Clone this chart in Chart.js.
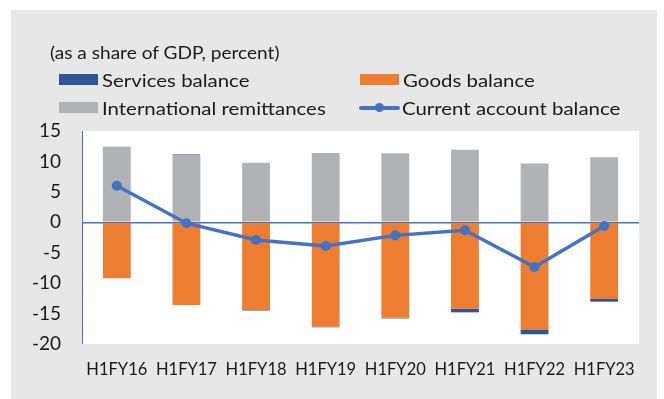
<!DOCTYPE html>
<html>
<head>
<meta charset="utf-8">
<script src="https://cdn.jsdelivr.net/npm/chart.js@4"></script>
<style>
  html, body { margin: 0; padding: 0; background: #ffffff; }
  #wrap { position: relative; width: 664px; height: 399px; overflow: hidden; }
  #panel { position: absolute; left: 11px; top: 10px; width: 646px; height: 389px; background: #e7e7e7; }
  #chart { position: absolute; left: 0; top: 0; }
  .txt { position: absolute; font-family: Lato, "Open Sans", sans-serif; font-size: 18px; color: #1a1a1a; white-space: nowrap; line-height: 1; transform-origin: 0 50%; }
  .sw { position: absolute; width: 39px; height: 11px; }
</style>
</head>
<body>
<div id="wrap">
  <div id="panel"></div>
  <canvas id="chart" width="664" height="399"></canvas>
  <div class="txt" style="left:50px; top:43px; transform: scaleX(1.06);">(as a share of GDP, percent)</div>
  <div id="legend"></div>
</div>
<script>
// Half-year balance of payments components, % of GDP
const categories = ['H1FY16', 'H1FY17', 'H1FY18', 'H1FY19', 'H1FY20', 'H1FY21', 'H1FY22', 'H1FY23'];
const servicesBalance = [0.1, 0.1, -0.1, -0.1, -0.1, -0.6, -0.8, -0.45];
const goodsBalance = [-9.2, -13.6, -14.4, -17.15, -15.7, -14.2, -17.6, -12.6];
const remittances = [12.3, 11.1, 9.8, 11.4, 11.35, 11.9, 9.65, 10.7];
const currentAccount = [6.0, -0.15, -2.9, -3.9, -2.15, -1.3, -7.35, -0.6];
const yTicks = [15, 10, 5, 0, -5, -10, -15, -20];

const COLORS = {
  services: '#2f5597',
  goods: '#ed7d31',
  remit: '#b0b2b5',
  ca: '#4472c4',
  axis: '#4472c4',
  text: '#1a1a1a'
};
const FONT = 'Lato, "Open Sans", sans-serif';

// Legend, laid out in two columns
const legendItems = [
  { label: 'Services balance', color: COLORS.services, x: 59, y: 74, kind: 'box' },
  { label: 'Goods balance', color: COLORS.goods, x: 360, y: 74, kind: 'box' },
  { label: 'International remittances', color: COLORS.remit, x: 59, y: 102, kind: 'box' },
  { label: 'Current account balance', color: COLORS.ca, x: 359, y: 102, kind: 'line' }
];
const legendEl = document.getElementById('legend');
legendItems.forEach(it => {
  if (it.kind === 'box') {
    const s = document.createElement('div');
    s.className = 'sw';
    s.style.left = it.x + 'px';
    s.style.top = it.y + 'px';
    s.style.background = it.color;
    legendEl.appendChild(s);
  } else {
    const l = document.createElement('div');
    l.style.cssText = `position:absolute;left:${it.x}px;top:${it.y + 4}px;width:41px;height:3.5px;background:${it.color};border-radius:2px;`;
    legendEl.appendChild(l);
    const d = document.createElement('div');
    d.style.cssText = `position:absolute;left:${it.x + 16}px;top:${it.y + 1}px;width:9px;height:9px;background:${it.color};border-radius:50%;`;
    legendEl.appendChild(d);
  }
  const t = document.createElement('div');
  t.className = 'txt';
  t.textContent = it.label;
  t.style.left = (it.x + 43) + 'px';
  t.style.top = (it.y - 3) + 'px';
  t.style.transform = 'scaleX(1.135)';
  legendEl.appendChild(t);
});

new Chart(document.getElementById('chart'), {
  data: {
    labels: categories,
    datasets: [
      {
        type: 'line', label: 'Current account balance', data: currentAccount, stack: 'ca',
        borderColor: COLORS.ca, backgroundColor: COLORS.ca, borderWidth: 3.5,
        pointRadius: 5, pointHoverRadius: 5, pointBackgroundColor: COLORS.ca, pointBorderWidth: 0,
        tension: 0, order: 0
      },
      {
        type: 'bar', label: 'Goods balance', data: goodsBalance, stack: 'bop',
        backgroundColor: COLORS.goods, borderWidth: 0, order: 1
      },
      {
        type: 'bar', label: 'International remittances', data: remittances, stack: 'bop',
        backgroundColor: COLORS.remit, borderWidth: 0, order: 2
      },
      {
        type: 'bar', label: 'Services balance', data: servicesBalance, stack: 'bop',
        backgroundColor: COLORS.services, borderWidth: 0, order: 3
      }
    ]
  },
  options: {
    responsive: false,
    animation: false,
    maintainAspectRatio: false,
    layout: { padding: { left: 0, top: 131, right: 25, bottom: 0 } },
    plugins: { legend: { display: false }, title: { display: false }, tooltip: { enabled: false } },
    datasets: { bar: { barPercentage: 0.4, categoryPercentage: 1 } },
    scales: {
      x: {
        stacked: true,
        grid: { display: false, drawTicks: false },
        border: { display: false },
        ticks: { color: COLORS.text, font: { family: FONT, size: 16.5 }, padding: 16, maxRotation: 0, autoSkip: false },
        afterFit: s => { s.height = 55; }
      },
      y: {
        stacked: true,
        min: -20, max: 15,
        afterBuildTicks: s => { s.ticks = yTicks.map(v => ({ value: v })); },
        grid: {
          drawTicks: false,
          color: c => (c.tick && c.tick.value === 0 ? COLORS.axis : 'rgba(0,0,0,0)'),
          lineWidth: c => (c.tick && c.tick.value === 0 ? 1.5 : 0)
        },
        border: { display: true, color: COLORS.axis, width: 1 },
        ticks: { color: COLORS.text, font: { family: FONT, size: 19 }, padding: 21 },
        afterFit: s => { s.width = 82; }
      }
    }
  },
  plugins: [{
    id: 'plotBg',
    beforeDraw: ch => {
      const { ctx, chartArea: a } = ch;
      ctx.save();
      ctx.fillStyle = '#ffffff';
      ctx.fillRect(a.left, a.top, a.right - a.left, a.bottom - a.top);
      ctx.restore();
    }
  }]
});
</script>
</body>
</html>
